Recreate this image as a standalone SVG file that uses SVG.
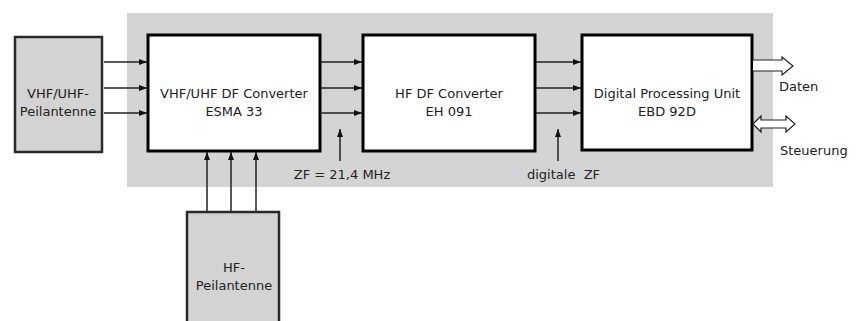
<svg xmlns="http://www.w3.org/2000/svg" width="857" height="321" viewBox="0 0 857 321">
<defs>
<style>
.ant{fill:#d3d3d3;stroke:#2a2a2a;stroke-width:2.5}
.box{fill:#fff;stroke:#000;stroke-width:3}
.t{font-family:"DejaVu Sans","Liberation Sans",sans-serif;font-size:13px;fill:#222;text-anchor:middle}
.l{font-family:"DejaVu Sans","Liberation Sans",sans-serif;font-size:13px;fill:#222;white-space:pre}
.c{stroke:#222;stroke-width:1.5;fill:none}
.h{fill:#fff;stroke:#222;stroke-width:1.2;stroke-linejoin:miter}
</style>
<marker id="ah" markerWidth="8" markerHeight="6" refX="8" refY="3" orient="auto" markerUnits="userSpaceOnUse">
<path d="M0,0 L8,3 L0,6 Z" fill="#111"/>
</marker>
</defs>
<rect x="127" y="13" width="646" height="174" fill="#d4d4d4"/>
<g id="vhf-antenna">
<rect class="ant" x="15" y="37" width="87" height="115"/>
<text class="t" x="58" y="98">VHF/UHF-</text>
<text class="t" x="58" y="116">Peilantenne</text>
</g>
<g id="esma33">
<rect class="box" x="148" y="35" width="172" height="116"/>
<text class="t" x="234" y="98">VHF/UHF DF Converter</text>
<text class="t" x="234" y="116">ESMA 33</text>
</g>
<g id="eh091">
<rect class="box" x="363" y="35" width="172" height="116"/>
<text class="t" x="449" y="98">HF DF Converter</text>
<text class="t" x="449" y="116">EH 091</text>
</g>
<g id="ebd92d">
<rect class="box" x="582" y="35" width="170" height="115"/>
<text class="t" x="667" y="98">Digital Processing Unit</text>
<text class="t" x="667" y="116">EBD 92D</text>
</g>
<g id="hf-antenna">
<rect class="ant" x="187" y="212" width="92" height="120"/>
<text class="t" x="234" y="272">HF-</text>
<text class="t" x="234" y="290">Peilantenne</text>
</g>
<g id="connectors">
<line class="c" x1="104" y1="62" x2="147" y2="62" marker-end="url(#ah)"/>
<line class="c" x1="104" y1="88" x2="147" y2="88" marker-end="url(#ah)"/>
<line class="c" x1="104" y1="113" x2="147" y2="113" marker-end="url(#ah)"/>
<line class="c" x1="321" y1="62" x2="362" y2="62" marker-end="url(#ah)"/>
<line class="c" x1="321" y1="88" x2="362" y2="88" marker-end="url(#ah)"/>
<line class="c" x1="321" y1="113" x2="362" y2="113" marker-end="url(#ah)"/>
<line class="c" x1="536" y1="62" x2="581" y2="62" marker-end="url(#ah)"/>
<line class="c" x1="536" y1="88" x2="581" y2="88" marker-end="url(#ah)"/>
<line class="c" x1="536" y1="113" x2="581" y2="113" marker-end="url(#ah)"/>
<line class="c" x1="207" y1="211" x2="207" y2="152" marker-end="url(#ah)"/>
<line class="c" x1="231" y1="211" x2="231" y2="152" marker-end="url(#ah)"/>
<line class="c" x1="256" y1="211" x2="256" y2="152" marker-end="url(#ah)"/>
<line class="c" x1="340" y1="161" x2="340" y2="129" marker-end="url(#ah)"/>
<line class="c" x1="558" y1="161" x2="558" y2="129" marker-end="url(#ah)"/>
<path class="h" d="M753,60 L782,60 L782,57 L793,66 L782,75 L782,71 L753,71"/>
<path class="h" d="M753,124 L761,116 L761,120 L786,120 L786,116 L795,124 L786,132 L786,128 L761,128 L761,132 Z"/>
</g>
<text class="t" x="342" y="179">ZF = 21,4 MHz</text>
<text class="l" x="527" y="179">digitale  ZF</text>
<text class="l" x="779" y="91">Daten</text>
<text class="l" x="780" y="155">Steuerung</text>
</svg>
